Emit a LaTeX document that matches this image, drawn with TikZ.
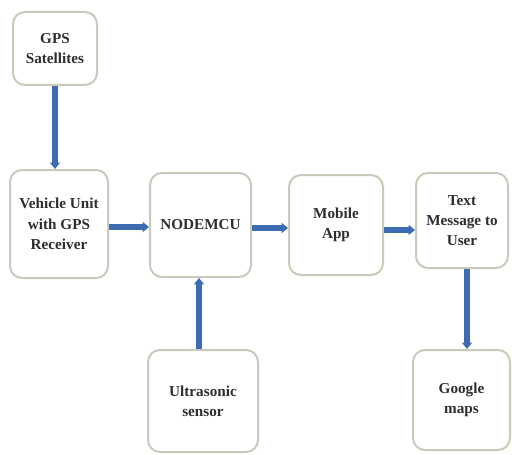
\documentclass[tikz,border=0pt]{standalone}
\usepackage{fontspec}
\setmainfont{Liberation Serif}
\usetikzlibrary{arrows.meta}
\definecolor{ink}{HTML}{2E2E2E}
\definecolor{edge}{HTML}{C9CABB}
\definecolor{flow}{HTML}{3E6CB3}
\tikzset{unit/.style={draw=edge,line width=1pt,rounded corners=6pt,fill=white,
    align=center,text=ink,font=\bfseries\fontsize{7.6}{10.2}\selectfont},
  link/.style={draw=flow,line width=2.6pt,-{Triangle[width=5pt,length=3.2pt]}}}

\begin{document}
\begin{tikzpicture}[x=0.5pt,y=-0.5pt]
  \useasboundingbox (0,0) rectangle (512,454);
  \node[unit,minimum width=42pt,minimum height=36.5pt] (gps) at (55,48.5) {GPS\\Satellites};
  \node[unit,minimum width=49pt,minimum height=54pt] (veh) at (59,224) {Vehicle Unit\\with GPS\\Receiver};
  \node[unit,minimum width=50.5pt,minimum height=52pt] (mcu) at (200.5,225) {NODEMCU};
  \node[unit,minimum width=47pt,minimum height=50pt] (app) at (336,225) {Mobile\\App};
  \node[unit,minimum width=46pt,minimum height=47.5pt] (sms) at (462,220.5) {Text\\Message to\\User};
  \node[unit,minimum width=55pt,minimum height=51pt] (sonic) at (203,401) {Ultrasonic\\sensor};
  \node[unit,minimum width=48.5pt,minimum height=50pt] (maps) at (461.5,400) {Google\\maps};
  \coordinate (gpsIn) at (55,0);
  \coordinate (sonicUp) at (199,0);
  \coordinate (mapsIn) at (467,0);
  \draw[link] (gps.south -| gpsIn) -- (veh.north -| gpsIn);
  \draw[link] (veh.east |- 0,227) -- (mcu.west |- 0,227);
  \draw[link] (mcu.east |- 0,228) -- (app.west |- 0,228);
  \draw[link] (app.east |- 0,230) -- (sms.west |- 0,230);
  \draw[link] (sonic.north -| sonicUp) -- (mcu.south -| sonicUp);
  \draw[link] (sms.south -| mapsIn) -- (maps.north -| mapsIn);
\end{tikzpicture}
\end{document}
